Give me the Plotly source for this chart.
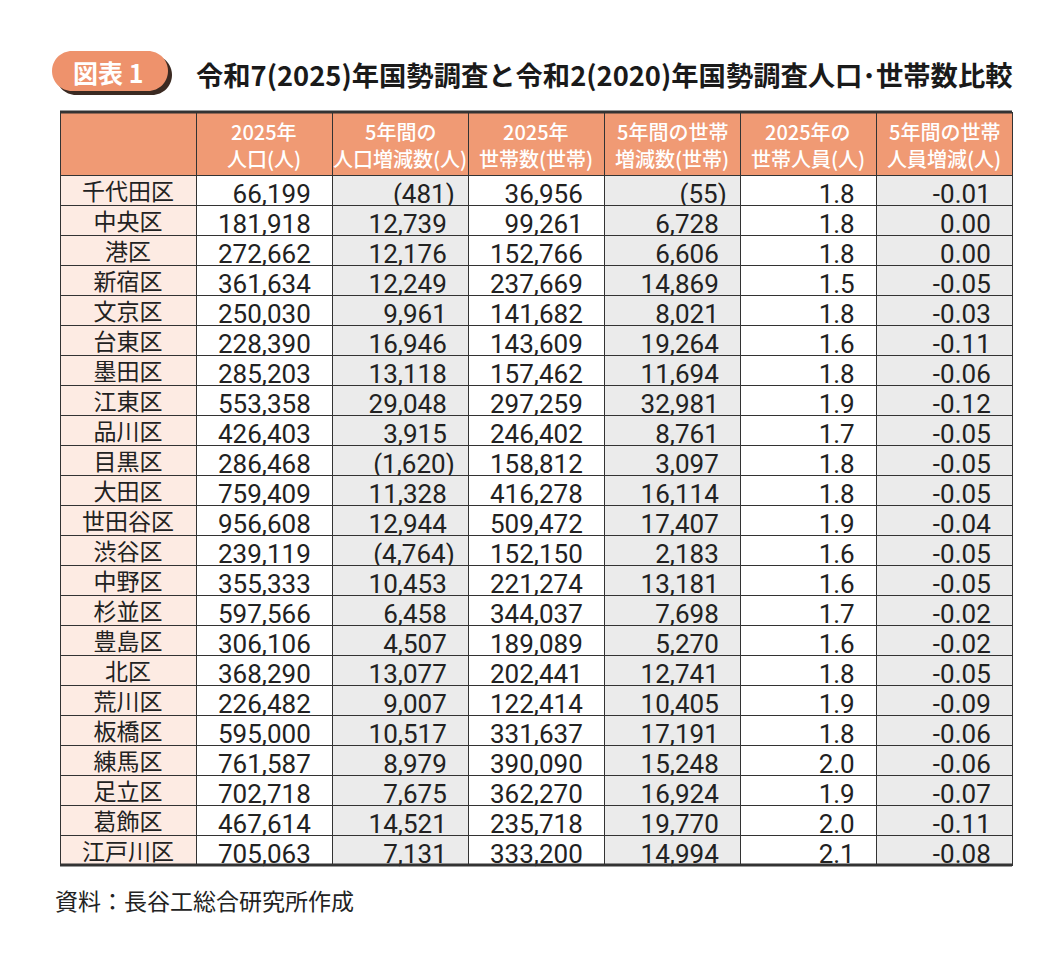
import plotly.graph_objects as go

W, H = 1064, 963

wards = ["千代田区", "中央区", "港区", "新宿区", "文京区", "台東区", "墨田区", "江東区",
         "品川区", "目黒区", "大田区", "世田谷区", "渋谷区", "中野区", "杉並区", "豊島区",
         "北区", "荒川区", "板橋区", "練馬区", "足立区", "葛飾区", "江戸川区"]
pop_2025 = [66199, 181918, 272662, 361634, 250030, 228390, 285203, 553358, 426403, 286468,
            759409, 956608, 239119, 355333, 597566, 306106, 368290, 226482, 595000, 761587,
            702718, 467614, 705063]
pop_change = [-481, 12739, 12176, 12249, 9961, 16946, 13118, 29048, 3915, -1620, 11328,
              12944, -4764, 10453, 6458, 4507, 13077, 9007, 10517, 8979, 7675, 14521, 7131]
households_2025 = [36956, 99261, 152766, 237669, 141682, 143609, 157462, 297259, 246402,
                   158812, 416278, 509472, 152150, 221274, 344037, 189089, 202441, 122414,
                   331637, 390090, 362270, 235718, 333200]
households_change = [-55, 6728, 6606, 14869, 8021, 19264, 11694, 32981, 8761, 3097, 16114,
                     17407, 2183, 13181, 7698, 5270, 12741, 10405, 17191, 15248, 16924,
                     19770, 14994]
persons_per_hh = [1.8, 1.8, 1.8, 1.5, 1.8, 1.6, 1.8, 1.9, 1.7, 1.8, 1.8, 1.9, 1.6, 1.6,
                  1.7, 1.6, 1.8, 1.9, 1.8, 2.0, 1.9, 2.0, 2.1]
persons_change = [-0.01, 0.00, 0.00, -0.05, -0.03, -0.11, -0.06, -0.12, -0.05, -0.05,
                  -0.05, -0.04, -0.05, -0.05, -0.02, -0.02, -0.05, -0.09, -0.06, -0.06,
                  -0.07, -0.11, -0.08]
headers = ["", "2025年<br>人口(人)", "5年間の<br>人口増減数(人)", "2025年<br>世帯数(世帯)",
           "5年間の世帯<br>増減数(世帯)", "2025年の<br>世帯人員(人)", "5年間の世帯<br>人員増減(人)"]

title = "令和7(2025)年国勢調査と令和2(2020)年国勢調査人口･世帯数比較"
badge = "図表 1"
source = "資料：長谷工総合研究所作成"

SALMON = "#F09A74"
PINK = "#FDEBE3"
GRAY = "#EBEBEB"
LINE = "#333333"
FONT = "Noto Sans CJK JP"
NUM_FONT = "Roboto, Noto Sans CJK JP"
PAD = "\u2002"
BODY = 8  # the page body margin pushes the plot 8px right/down


def count(v):
    # negative counts are shown in parentheses, the closing one hangs a little to the right
    return f"({-v:,})\u2009" if v < 0 else f"{v:,}" + PAD


def px(x):
    return (x - BODY) / W


def py(y):
    return 1 - (y - BODY) / H


columns = [
    wards,
    [count(v) for v in pop_2025],
    [count(v) for v in pop_change],
    [count(v) for v in households_2025],
    [count(v) for v in households_change],
    [f"{v:.1f}" + PAD for v in persons_per_hh],
    [f"{v:.2f}" + PAD for v in persons_change],
]

left, right, top, bottom = 60, 1012, 112, 865
header_h = 63
col_w = (right - left) / len(headers)

# header text goes in annotations so the two-line labels do not stretch the header row
fig = go.Figure(go.Table(
    domain=dict(x=[px(left), px(right)], y=[py(900), py(top)]),
    columnwidth=[1] * len(headers),
    header=dict(values=[""] * len(headers), fill_color=SALMON, height=header_h,
                line=dict(color=LINE, width=1)),
    cells=dict(values=columns, height=30,
               fill_color=[PINK, "white", GRAY, "white", GRAY, "white", GRAY],
               align=["center"] + ["right"] * 6,
               line=dict(color=LINE, width=1),
               font=dict(family=[FONT] + [NUM_FONT] * 6, size=[23] + [26] * 6,
                         color="#222222")),
))


def pill(x0, y0, x1, y1):
    r = (y1 - y0) / 2
    k = 0.5523 * r
    pts = [
        f"M {px(x0 + r)},{py(y0)}",
        f"L {px(x1 - r)},{py(y0)}",
        f"C {px(x1 - r + k)},{py(y0)} {px(x1)},{py(y0 + r - k)} {px(x1)},{py(y0 + r)}",
        f"C {px(x1)},{py(y0 + r + k)} {px(x1 - r + k)},{py(y1)} {px(x1 - r)},{py(y1)}",
        f"L {px(x0 + r)},{py(y1)}",
        f"C {px(x0 + r - k)},{py(y1)} {px(x0)},{py(y0 + r + k)} {px(x0)},{py(y0 + r)}",
        f"C {px(x0)},{py(y0 + r - k)} {px(x0 + r - k)},{py(y0)} {px(x0 + r)},{py(y0)} Z",
    ]
    return " ".join(pts)


shapes = [
    dict(type="path", path=pill(56, 55, 172, 95), xref="paper", yref="paper",
         fillcolor="#3B2A22", line=dict(width=0)),
    dict(type="path", path=pill(52, 51, 168, 91), xref="paper", yref="paper",
         fillcolor="#EE926C", line=dict(width=0)),
    dict(type="line", x0=px(left), x1=px(right), y0=py(top), y1=py(top),
         xref="paper", yref="paper", line=dict(color=LINE, width=3)),
    dict(type="line", x0=px(left), x1=px(right), y0=py(bottom), y1=py(bottom),
         xref="paper", yref="paper", line=dict(color=LINE, width=3)),
]

annotations = [
    dict(text=f"<b>{badge}</b>", x=px(108), y=py(72), xref="paper", yref="paper",
         showarrow=False, font=dict(family=FONT, size=25, color="white"),
         xanchor="center", yanchor="middle"),
    dict(text=f"<b>{title}</b>", x=px(194), y=py(74), xref="paper", yref="paper",
         showarrow=False, font=dict(family=FONT, size=27.3, color="#1a1a1a"),
         xanchor="left", yanchor="middle"),
    dict(text=source, x=px(53), y=py(900), xref="paper", yref="paper", showarrow=False,
         font=dict(family=FONT, size=23, color="#222222"), xanchor="left", yanchor="middle"),
]
for i, h in enumerate(headers):
    for j, line in enumerate(h.split("<br>") if h else []):
        annotations.append(dict(
            text=line, x=px(left + col_w * (i + 0.5)), y=py(top + 20 + 26 * j),
            xref="paper", yref="paper", showarrow=False, xanchor="center", yanchor="middle",
            font=dict(family=FONT, size=20, color="white", weight=500)))

fig.update_layout(width=W, height=H, margin=dict(l=0, r=0, t=0, b=0),
                  paper_bgcolor="white", shapes=shapes, annotations=annotations)

fig.write_html("out.html")
